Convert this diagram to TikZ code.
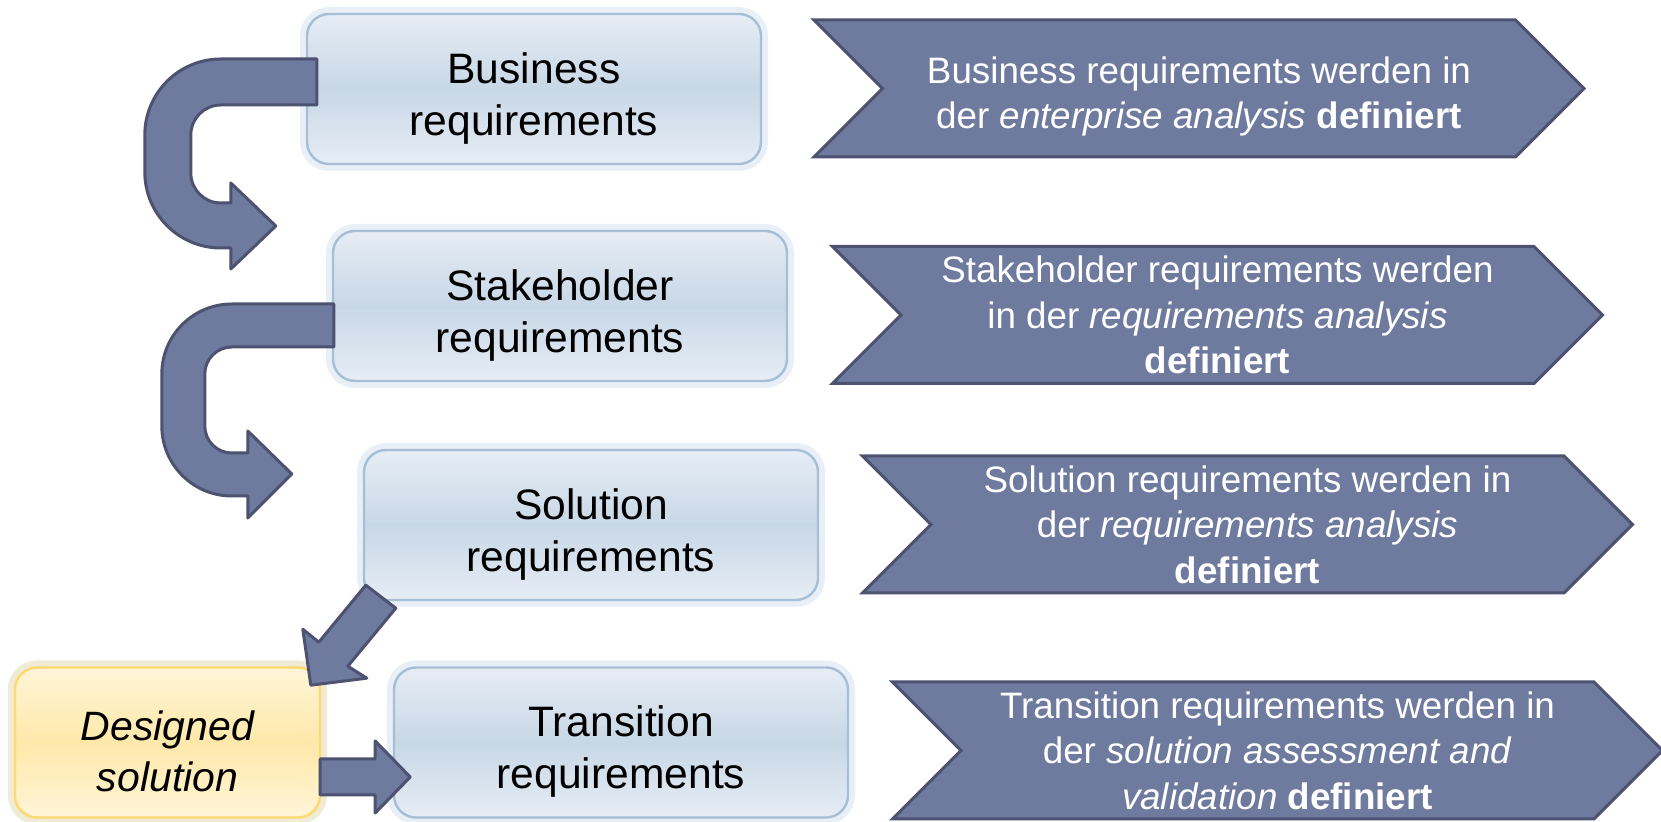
\documentclass[tikz,border=0pt]{standalone}
\usepackage{fontspec}
\setmainfont{Liberation Sans}
\usetikzlibrary{shapes.symbols,calc}

\definecolor{chevfill}{RGB}{111,122,159}
\definecolor{chevline}{RGB}{76,82,112}
\definecolor{boxtop}{RGB}{230,237,245}
\definecolor{boxmid}{RGB}{200,215,230}
\definecolor{boxline}{RGB}{166,190,214}
\definecolor{boxglow}{RGB}{190,210,230}
\definecolor{dstop}{RGB}{255,245,215}
\definecolor{dsmid}{RGB}{255,232,170}
\definecolor{dsline}{RGB}{255,216,110}
\definecolor{dsglow}{RGB}{255,228,150}

% extra room above the first line
\newcommand{\topgap}{\rule{0pt}{1.15em}}

\begin{document}
\begin{tikzpicture}[x=0.5pt,y=-0.5pt,
box/.style={draw=boxline, line width=1.2pt, rounded corners=11pt,
  top color=boxtop, bottom color=boxtop, middle color=boxmid,
  minimum width=227pt, minimum height=75pt, align=center,
  font=\fontsize{21.3}{26}\selectfont,
  preaction={draw=boxglow, line width=7pt, opacity=.35}},
designbox/.style={draw=dsline, top color=dstop, bottom color=dstop, middle color=dsmid,
  minimum width=152.5pt, font=\fontsize{20.5}{25.5}\selectfont\itshape,
  preaction={draw=dsglow, line width=7pt, opacity=.35}},
chev/.style={shape=signal, signal from=west, signal to=east, signal pointer angle=90,
  fill=chevfill, draw=chevline, line width=1.5pt, text=white, align=center,
  minimum width=385pt, minimum height=68.5pt, inner ysep=0pt,
  font=\fontsize{18.4}{22.8}\selectfont},
blockarrow/.style={fill=chevfill, draw=chevline, line width=1.5pt, line join=round},
]
\useasboundingbox (0,0) rectangle (1661,822);

% requirement boxes
\node[box] (bus) at (534,89) {\topgap Business\\requirements};
\node[box] (stake) at (560,306) {\topgap Stakeholder\\requirements};
\node[box] (sol) at (591,525) {\topgap Solution\\requirements};
\node[box] (trans) at (621,742.5) {\topgap Transition\\requirements};
\node[box,designbox] (design) at (167.5,742.5) {\topgap Designed\\solution};

% chevrons
\node[chev] (cbus) at (1199,88.5) {\topgap Business requirements werden in\\der \textit{enterprise analysis} \textbf{definiert}};
\node[chev] (cstake) at (1217.5,315) {Stakeholder requirements werden\\in der \textit{requirements analysis}\\\textbf{definiert}};
\node[chev] (csol) at (1247.5,524.5) {Solution requirements werden in\\der \textit{requirements analysis}\\\textbf{definiert}};
\node[chev] (ctrans) at (1277.5,750.5) {Transition requirements werden in\\der \textit{solution assessment and}\\\textit{validation} \textbf{definiert}};

% u-turn arrows
\draw[blockarrow] ([shift={(11,-30)}]bus.west) -- ++(-96,0)
  arc[start angle=270, end angle=180, radius=76] -- ++(0,37)
  arc[start angle=180, end angle=90, radius=76] -- ++(10,0)
  -- ++(0,21) -- ++(45,-43) -- ++(-45,-43) -- ++(0,20) -- ++(-10,0)
  arc[start angle=90, end angle=180, radius=30] -- ++(0,-38)
  arc[start angle=180, end angle=270, radius=30] -- ++(96,0) -- cycle;
\draw[blockarrow] ([shift={(2,-2)}]stake.west) -- ++(-102,0)
  arc[start angle=270, end angle=180, radius=70] -- ++(0,52)
  arc[start angle=180, end angle=90, radius=70] -- ++(16,0)
  -- ++(0,22) -- ++(44,-44) -- ++(-44,-43) -- ++(0,22) -- ++(-16,0)
  arc[start angle=90, end angle=180, radius=27] -- ++(0,-52)
  arc[start angle=180, end angle=270, radius=27] -- ++(102,0) -- cycle;

% straight arrows
\draw[blockarrow] ([shift={(3,-16)}]sol.south west) -- ++(-47,57) -- ++(-16,-13)
  -- ++(8,56) -- ++(56,-7) -- ++(-19,-12) -- ++(48,-58) -- cycle;
\draw[blockarrow] ([shift={(-1,16.5)}]design.east) -- ++(55,0) -- ++(0,-18)
  -- ++(35,36) -- ++(-35,36) -- ++(0,-18) -- ++(-55,0) -- cycle;
\end{tikzpicture}
\end{document}
